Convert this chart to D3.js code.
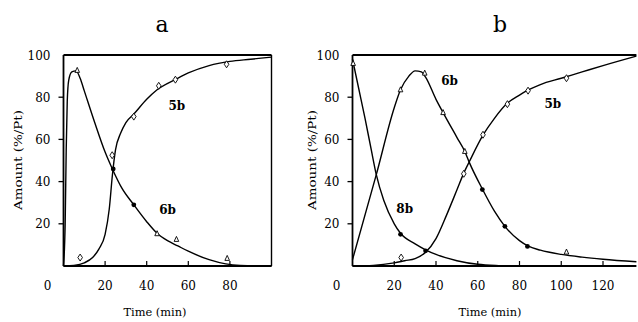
<!DOCTYPE html>
<html>
<head>
<meta charset="utf-8">
<script src="https://cdn.jsdelivr.net/npm/d3@7"></script>
<style>
  body { margin: 0; background: #fff; }
  svg { display: block; }
  text { font-family: "DejaVu Serif", serif; fill: #000; }
</style>
</head>
<body>
<svg id="chart" width="638" height="322"></svg>
<script>
// ---- panel a: curves (time min, amount %) ----
const aCurve5b = [[0,0],[5,0.3],[10,1.5],[14,4],[17,8],[20,15],[22,27],[23.5,43],[25,55],[27.5,63],[30,68],[33.8,72],[40,79],[45,83.5],[54,88.5],[60,91.5],[70,95],[80,97],[90,98],[100,99]];
const aCurve6b = [[0,0],[0.8,20],[1.3,55],[1.8,78],[2.5,88],[4,92],[6,92.5],[8,89],[10,83],[15,68],[20,54],[23.5,46],[28,37],[33.8,29],[40,21],[45,15.5],[50,12],[55,9.5],[60,7],[70,3],[78,1],[85,0.3],[100,0]];
const aDiamonds = [[8,4],[23.4,52.5],[33.8,70.8],[45.8,85.4],[53.8,88.3],[78.4,95.6]];
const aTriangles = [[6.6,92.7],[45,15.3],[54.3,12.6],[78.7,3.6]];
const aDots = [[23.9,46],[33.8,29]];

// ---- panel b ----
const bCurve5b = [[0,0],[10,0.3],[20,1.5],[25,2.5],[30,3.5],[35,6.5],[40,13],[45,24],[50,36],[53.3,44],[56,49.5],[62.5,62],[68,70],[74,77],[80,81],[84,83.3],[90,86],[100,89],[110,92],[120,95],[136,99.5]];
const bCurve6b = [[0,3],[11.4,43.3],[20,75],[23,83.5],[27,90],[30,92.5],[33,92],[35,89.5],[40,79],[43.4,72.7],[50,61],[53.8,54.3],[56,49],[62.2,36.5],[68,26],[73,18.8],[80,12],[84,9.5],[90,7.5],[100,5.5],[110,4.2],[120,3.2],[136,2]];
const bCurve8b = [[0,98],[3,84],[6,70],[9,55],[11.4,43.3],[15,31],[20,20],[23,15.5],[30,10.5],[35,7.7],[40,5.5],[50,2.5],[60,0.8],[70,0.2],[80,0]];
const bDiamonds = [[23.3,4],[53.3,43.7],[62.5,62.2],[74.2,76.7],[84.1,83.1],[102.5,89]];
const bTriangles = [[0.3,96],[23,83.5],[34.6,91.4],[43.4,72.7],[53.8,54.3],[102.5,6.6]];
const bDots = [[23,15],[35,7.2],[62.2,36.2],[73,18.8],[83.8,9.3]];

const yTickVals = [20, 40, 60, 80, 100];
const aXTicks = [0, 20, 40, 60, 80];
const bXTicks = [0, 20, 40, 60, 80, 100, 120];

const svg = d3.select("#chart");
const y = d3.scaleLinear().domain([0, 100]).range([266, 55]);

function panel(opts) {
  const x = d3.scaleLinear().domain(opts.domain).range(opts.range);
  const g = svg.append("g");
  const [x0, x1] = opts.range;

  // frame
  g.append("line").attr("x1", x0).attr("x2", x0).attr("y1", y(0)).attr("y2", y(100))
    .attr("stroke", "#000").attr("stroke-width", 1.8);
  g.append("line").attr("x1", x0).attr("x2", x1).attr("y1", y(0)).attr("y2", y(0))
    .attr("stroke", "#000").attr("stroke-width", 1.8);
  g.append("line").attr("x1", x0).attr("x2", x1).attr("y1", y(100)).attr("y2", y(100))
    .attr("stroke", "#000").attr("stroke-width", 1.8);
  if (opts.rightEdge) {
    g.append("line").attr("x1", x1).attr("x2", x1).attr("y1", y(0)).attr("y2", y(100))
      .attr("stroke", "#000").attr("stroke-width", 1.4);
  }

  // y ticks (outward) and labels
  g.selectAll(".yt").data(yTickVals.filter(d => d < 100)).enter().append("line")
    .attr("x1", x0 - 5).attr("x2", x0).attr("y1", d => y(d)).attr("y2", d => y(d))
    .attr("stroke", "#000").attr("stroke-width", 1.3);
  g.selectAll(".yl").data(yTickVals).enter().append("text")
    .attr("x", x0 - 13).attr("y", d => y(d) + 4.5)
    .attr("text-anchor", "end").style("font-size", "12px")
    .text(d => d);

  // x ticks (inward) and labels
  g.selectAll(".xt").data(opts.xTicks.filter(d => d > 0)).enter().append("line")
    .attr("x1", d => x(d)).attr("x2", d => x(d)).attr("y1", y(0)).attr("y2", y(0) - 5)
    .attr("stroke", "#000").attr("stroke-width", 1.2);
  g.selectAll(".xl").data(opts.xTicks).enter().append("text")
    .attr("x", d => d === 0 ? x0 - 16 : x(d)).attr("y", 290)
    .attr("text-anchor", "middle").style("font-size", "12px")
    .text(d => d);

  // axis titles
  g.append("text").attr("x", opts.timeX).attr("y", 316)
    .attr("text-anchor", "middle").style("font-size", "11.5px")
    .attr("textLength", 63).attr("lengthAdjust", "spacingAndGlyphs")
    .text("Time (min)");
  g.append("text")
    .attr("transform", `translate(${opts.amountX},160) rotate(-90)`)
    .attr("text-anchor", "middle").style("font-size", "11.5px")
    .attr("textLength", 100).attr("lengthAdjust", "spacingAndGlyphs")
    .text("Amount (%/Pt)");
  g.append("text").attr("x", opts.titleX).attr("y", 32)
    .attr("text-anchor", "middle").style("font-size", "22px")
    .text(opts.title);

  // curves
  const line = d3.line().x(d => x(d[0])).y(d => y(d[1])).curve(d3.curveMonotoneX);
  opts.curves.forEach(c => {
    g.append("path").datum(c).attr("d", line)
      .attr("fill", "none").attr("stroke", "#000").attr("stroke-width", 1.4);
  });

  // markers
  g.selectAll(".dm").data(opts.diamonds).enter().append("path")
    .attr("d", d => `M${x(d[0])},${y(d[1]) - 3.5}L${x(d[0]) + 2.3},${y(d[1])}L${x(d[0])},${y(d[1]) + 3.5}L${x(d[0]) - 2.3},${y(d[1])}Z`)
    .attr("fill", "#fff").attr("stroke", "#000").attr("stroke-width", 0.9);
  g.selectAll(".tr").data(opts.triangles).enter().append("path")
    .attr("d", d => `M${x(d[0])},${y(d[1]) - 3}L${x(d[0]) + 2.3},${y(d[1]) + 2}L${x(d[0]) - 2.3},${y(d[1]) + 2}Z`)
    .attr("fill", "#fff").attr("stroke", "#000").attr("stroke-width", 0.9);
  g.selectAll(".dt").data(opts.dots).enter().append("circle")
    .attr("cx", d => x(d[0])).attr("cy", d => y(d[1])).attr("r", 2.4)
    .attr("fill", "#000");

  // curve labels
  opts.labels.forEach(l => {
    g.append("text").attr("x", x(l[1])).attr("y", y(l[2]) + 4)
      .attr("text-anchor", "middle").style("font-size", "12px").style("font-weight", "bold")
      .text(l[0]);
  });
}

panel({
  domain: [0, 100], range: [63.5, 271.5], rightEdge: true,
  xTicks: aXTicks, timeX: 155, amountX: 22, titleX: 162, title: "a",
  curves: [aCurve5b, aCurve6b],
  diamonds: aDiamonds, triangles: aTriangles, dots: aDots,
  labels: [["5b", 54.5, 76], ["6b", 50, 26.5]]
});

panel({
  domain: [0, 136], range: [352.5, 636.4], rightEdge: false,
  xTicks: bXTicks, timeX: 490, amountX: 316, titleX: 500, title: "b",
  curves: [bCurve5b, bCurve6b, bCurve8b],
  diamonds: bDiamonds, triangles: bTriangles, dots: bDots,
  labels: [["6b", 46.5, 87.5], ["5b", 96, 77], ["8b", 25, 27]]
});
</script>
</body>
</html>
